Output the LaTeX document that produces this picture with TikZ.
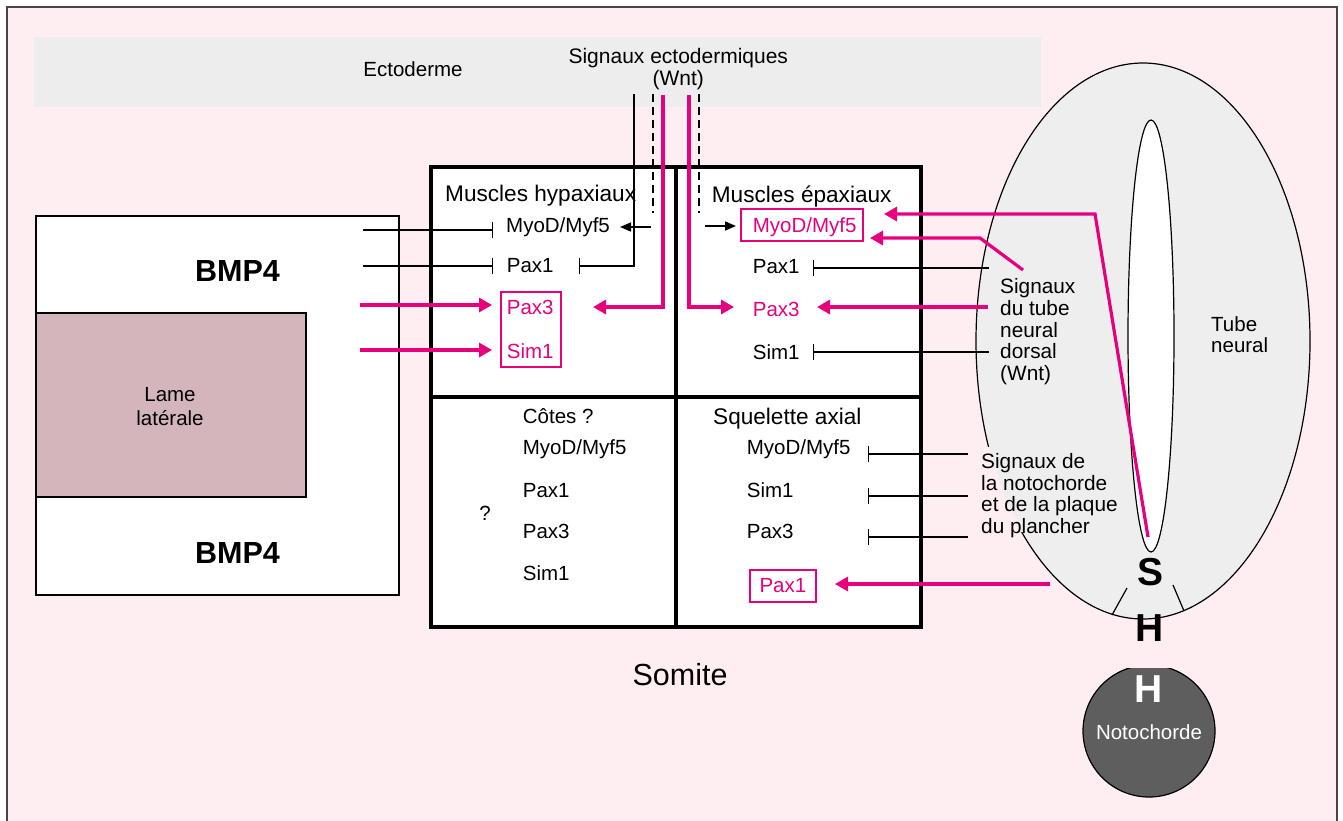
\documentclass[tikz,border=0pt]{standalone}
\usepackage{fontspec}
\setmainfont{Liberation Sans}
\usetikzlibrary{arrows.meta,shapes.geometric}
\definecolor{bgpink}{RGB}{255,238,241}
\definecolor{ectogray}{RGB}{237,237,237}
\definecolor{mag}{RGB}{230,0,126}
\definecolor{lamecol}{RGB}{212,181,188}
\definecolor{tubegray}{RGB}{238,238,238}
\definecolor{notogray}{RGB}{94,94,94}
\definecolor{framegray}{RGB}{70,70,70}
\begin{document}
\begin{tikzpicture}[x=1pt,y=-1pt,
  txt/.style={font=\fontsize{20.5}{21.7}\selectfont, inner sep=0pt, text height=14.7pt, text depth=0pt},
  ttl/.style={font=\fontsize{22.6}{24}\selectfont, inner sep=0pt, text height=16.2pt, text depth=0pt},
  mtxt/.style={font=\fontsize{20.8}{21.7}\selectfont, inner sep=0pt, align=left, anchor=north west},
  pinktxt/.style={txt, text=mag},
  bigbold/.style={font=\fontsize{30.5}{32}\bfseries\selectfont, inner sep=0pt, text height=21.8pt, text depth=0pt},
  shbold/.style={font=\fontsize{39}{40}\bfseries\selectfont, inner sep=0pt, text height=28pt, text depth=0pt},
  pinkbox/.style={draw=mag, line width=1.4pt, inner sep=0pt},
  inh/.style={draw=black, line width=1.3pt, -{Bar[width=16pt,line width=1.3pt]}},
  act/.style={draw=black, line width=1.6pt, -{Triangle[length=11pt,width=9pt]}},
  pact/.style={draw=mag, line width=3.2pt, -{Triangle[length=13pt,width=14pt]}},
  dashline/.style={draw=black, line width=1.3pt, dash pattern=on 8pt off 5pt},
  somiteline/.style={draw=black, line width=4pt}
]
\useasboundingbox (0,0) rectangle (1343,820);
\fill[white] (0,0) rectangle (1343,820);
\fill[bgpink] (7,7) rectangle (1337,830);
\draw[framegray, line width=2pt] (7,830) -- (7,7) -- (1337,7) -- (1337,830);

% Ectoderm band
\fill[ectogray] (34,37) rectangle (1041,107);
\node[txt] (ecto) at (413,69.5) {Ectoderme};
\node[font=\fontsize{21}{21.8}\selectfont, inner sep=0pt, align=center, anchor=north] (sigecto) at (678.3,48.5) {Signaux ectodermiques\\(Wnt)};

% Left box
\draw[line width=1.2pt, fill=white] (36,216) rectangle (399,595);
\draw[line width=1.2pt, fill=lamecol] (36,313) rectangle (306,497);
\node[bigbold] (bmpA) at (237.5,270.8) {BMP4};
\node[bigbold] (bmpB) at (237.5,552.5) {BMP4};
\node[txt] (lame1) at (170,393.8) {Lame};
\node[txt] (lame2) at (170,418) {latérale};

% Neural tube
\node[ellipse, draw=black, line width=1.2pt, fill=tubegray, minimum width=334pt, minimum height=556pt, inner sep=0pt] (tube) at (1143,341) {};
% text area masks the outline
\fill[bgpink] (979,447) rectangle (1122,532);
\begin{scope}
\clip (1143,341) ellipse [x radius=166.4, y radius=277.4];
\fill[tubegray] (979,447) rectangle (1122,532);
\end{scope}
\node[ellipse, draw=black, line width=1.2pt, fill=white, minimum width=46pt, minimum height=432pt, inner sep=0pt] (lumen) at (1151,336) {};
\draw[line width=1.2pt] (1127,588) -- (1112,615);
\draw[line width=1.2pt] (1173,585) -- (1184,611);
\node[txt, anchor=west] (tube1) at (1211,324) {Tube};
\node[txt, anchor=west] (tube2) at (1211,345.5) {neural};
\node[shbold] (S) at (1150,571) {S};
\node[shbold] (H1) at (1150,627) {H};

% Notochord
\begin{scope}
\clip (1070,668) rectangle (1230,800);
\draw[line width=1.2pt, fill=notogray] (1149,731) circle[radius=66];
\end{scope}
\node[shbold, text=white] (H2) at (1149,688) {H};
\node[txt, text=white] (noto) at (1149,732) {Notochorde};

% Somite
\draw[somiteline, fill=white] (431,167) rectangle (921,627);
\draw[somiteline] (676,167) -- (676,627);
\draw[somiteline] (431,397) -- (921,397);
\node[font=\fontsize{30.5}{32}\selectfont, inner sep=0pt, text height=21.8pt, text depth=0pt] (somite) at (680,675) {Somite};

% Hypaxial quadrant
\node[ttl, anchor=west] (hypT) at (445,193) {Muscles hypaxiaux};
\node[txt, anchor=west] (myodH) at (506,225.5) {MyoD/Myf5};
\node[txt, anchor=west] (pax1H) at (506.7,265.5) {Pax1};
\node[pinkbox, minimum width=60pt, minimum height=75pt] (boxH) at (531,329.5) {};
\node[pinktxt, anchor=west] (pax3H) at (506.7,307.5) {Pax3};
\node[pinktxt, anchor=west] (sim1H) at (506.7,351) {Sim1};

% Epaxial quadrant
\node[ttl, anchor=west] (epaT) at (711.7,194) {Muscles épaxiaux};
\node[pinkbox, minimum width=122pt, minimum height=32pt] (boxE) at (802,225) {};
\node[pinktxt, anchor=west] (myodE) at (752.7,225) {MyoD/Myf5};
\node[txt, anchor=west] (pax1E) at (752.7,266.5) {Pax1};
\node[pinktxt, anchor=west] (pax3E) at (752.7,309) {Pax3};
\node[txt, anchor=west] (sim1E) at (752.7,351.7) {Sim1};

% Cotes quadrant
\node[txt, anchor=west] (cotT) at (522.7,416.5) {Côtes ?};
\node[txt, anchor=west] (myodC) at (522.7,447) {MyoD/Myf5};
\node[txt, anchor=west] (pax1C) at (522.7,490.5) {Pax1};
\node[txt, anchor=west] (pax3C) at (522.7,531) {Pax3};
\node[txt, anchor=west] (sim1C) at (522.7,573) {Sim1};
\node[txt] (qC) at (485,513) {?};

% Squelette quadrant
\node[ttl, anchor=west] (squT) at (713,416.5) {Squelette axial};
\node[txt, anchor=west] (myodS) at (746.7,447) {MyoD/Myf5};
\node[txt, anchor=west] (sim1S) at (746.7,490.5) {Sim1};
\node[txt, anchor=west] (pax3S) at (746.7,531) {Pax3};
\node[pinkbox, minimum width=66pt, minimum height=32pt] (boxS) at (783,586) {};
\node[pinktxt, anchor=west] (pax1S) at (759.3,585) {Pax1};

% Right-side signal labels
\node[mtxt] (sigtube) at (1000,278.6) {Signaux\\du tube\\neural\\dorsal\\(Wnt)};
\node[mtxt] (signoto) at (981,453.3) {Signaux de\\la notochorde\\et de la plaque\\du plancher};

% Coordinates for free ends
\coordinate (bl1) at (363,230);
\coordinate (bl2) at (363,266);
\coordinate (bl3) at (360,305);
\coordinate (bl4) at (360,350);
\coordinate (e1) at (634,94);
\coordinate (e1end) at (579,266);
\coordinate (d1a) at (653,94);
\coordinate (d1b) at (653,213);
\coordinate (d2a) at (699,94);
\coordinate (d2b) at (699,213);
\coordinate (a1a) at (651,227);
\coordinate (a1b) at (620,227);
\coordinate (a2a) at (705,226);
\coordinate (a2b) at (736,226);
\coordinate (p1a) at (663,95);
\coordinate (p2a) at (689,95);
\coordinate (tub1) at (989,268);
\coordinate (tub2) at (988,307);
\coordinate (tub3) at (989,352);
\coordinate (tubk1) at (1023,270);
\coordinate (tubk2) at (980,238);
\coordinate (tubv1) at (1148,537);
\coordinate (tubv2) at (1095,214);
\coordinate (nt1) at (968,454);
\coordinate (nt2) at (968,496);
\coordinate (nt3) at (968,537);
\coordinate (fp) at (1050,584);

% Lateral plate signals (BMP4)
\draw[inh] (bl1) -- (493,230);
\draw[inh] (bl2) -- (493,266);
\draw[pact] (bl3) -- (492,305);
\draw[pact] (bl4) -- (492,350);

% Ectoderm signals
\draw[inh] (e1) |- (e1end);
\draw[dashline] (d1a) -- (d1b);
\draw[dashline] (d2a) -- (d2b);
\draw[act] (a1a) -- (a1b);
\draw[act] (a2a) -- (a2b);
\draw[pact] (p1a) |- (593,307);
\draw[pact] (p2a) |- (734,307);

% Dorsal neural tube signals
\draw[inh] (tub1) -- (813,268);
\draw[pact] (tub2) -- (817,307);
\draw[inh] (tub3) -- (813,352);
\draw[pact] (tubk1) -- (tubk2) -- (870,238);
\draw[pact] (tubv1) -- (tubv2) -- (884,214);

% Notochord / floor plate signals
\draw[inh] (nt1) -- (868,454);
\draw[inh] (nt2) -- (868,496);
\draw[inh] (nt3) -- (868,537);
\draw[pact] (fp) -- (835,584);
\end{tikzpicture}
\end{document}
